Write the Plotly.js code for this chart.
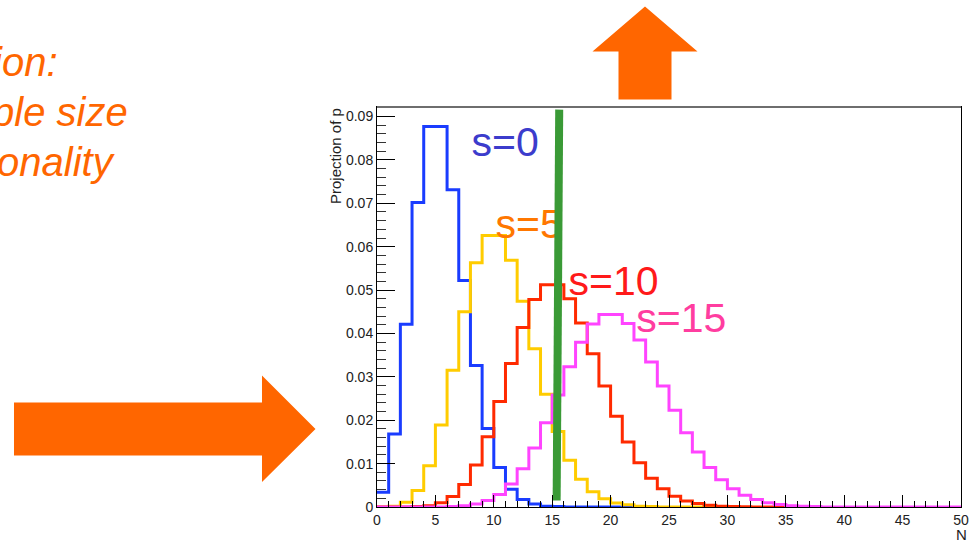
<!DOCTYPE html>
<html>
<head>
<meta charset="utf-8">
<script src="https://cdn.plot.ly/plotly-3.0.1.min.js"></script>
<style>html,body{margin:0;padding:0;background:#fff;}#chart{width:979px;height:545px;}</style>
</head>
<body>
<div id="chart"></div>
<script>
// Bin edges 0..50 (width 1)
const binEdges = Array.from({length: 51}, (_, i) => i);

// Bin contents
const s0Values = [0.0034, 0.0168, 0.0421, 0.0702, 0.0877, 0.0877, 0.0731, 0.0522, 0.0326, 0.0181, 0.0091, 0.0041, 0.0017, 0.0007, 0.0002, 0.0001, 0, 0, 0, 0, 0, 0, 0];
const s5Values = [0.00002, 0.0002, 0.0011, 0.0038, 0.0095, 0.0189, 0.0315, 0.0450, 0.0563, 0.0626, 0.0626, 0.0569, 0.0474, 0.0365, 0.0260, 0.0174, 0.0108, 0.0064, 0.0035, 0.0019, 0.0009, 0.0005, 0.0002, 0.0001, 0, 0, 0, 0, 0];
const s10Values = [0, 0, 0.00002, 0.0001, 0.0003, 0.0010, 0.0024, 0.0052, 0.0097, 0.0162, 0.0243, 0.0331, 0.0414, 0.0478, 0.0512, 0.0512, 0.0480, 0.0424, 0.0353, 0.0279, 0.0209, 0.0150, 0.0102, 0.0066, 0.0042, 0.0025, 0.0014, 0.0008, 0.0004, 0.0002, 0.0001, 0.00005, 0, 0, 0, 0];
const s15Values = [0, 0, 0, 0, 0, 0, 0.0001, 0.0003, 0.0007, 0.0015, 0.0029, 0.0053, 0.0088, 0.0136, 0.0194, 0.0258, 0.0323, 0.0380, 0.0422, 0.0444, 0.0444, 0.0423, 0.0385, 0.0334, 0.0279, 0.0223, 0.0171, 0.0127, 0.0091, 0.0063, 0.0042, 0.0027, 0.0017, 0.0010, 0.0006, 0.0003, 0.0002, 0.0001, 0, 0, 0, 0, 0, 0, 0, 0, 0, 0, 0, 0];

const seriesNames = ['s=0', 's=5', 's=10', 's=15'];
const histColors = ['#1a3cff', '#ffcc00', '#ff2a00', '#ff44ff'];
const labelColors = ['#3c3ccc', '#ff7700', '#ff1a1a', '#ff3da0'];
// label anchor points in data coordinates (left edge, vertical middle)
const labelX = [8.1, 10.15, 16.4, 22.2];
const labelY = [0.0832, 0.0643, 0.0512, 0.0427];

// cut line (green)
const cutX = [15.6, 15.38];
const cutY = [0.0916, 0.0015];

const yTickVals = [0, 0.01, 0.02, 0.03, 0.04, 0.05, 0.06, 0.07, 0.08, 0.09];
const yTickText = ['0', '0.01', '0.02', '0.03', '0.04', '0.05', '0.06', '0.07', '0.08', '0.09'];

const sideText = ['ion:', 'ple size', 'onality'];

// figure geometry (pixels)
const W = 979, H = 545;
const ml = 377, mr = 18, mt = 107, mb = 38;
const pw = W - ml - mr, ph = H - mt - mb;
const px = x => (x - ml) / pw;
const py = y => (H - mb - y) / ph;

function stepTrace(vals, color) {
  const x = binEdges.slice(0, vals.length + 1);
  const y = vals.concat([vals[vals.length - 1]]);
  return {x: x, y: y, type: 'scatter', mode: 'lines', line: {shape: 'hv', color: color, width: 3}, hoverinfo: 'skip', showlegend: false};
}

const allVals = [s0Values, s5Values, s10Values, s15Values];
const traces = allVals.map((v, i) => stepTrace(v, histColors[i]));

traces.push({
  x: labelX, y: labelY, type: 'scatter', mode: 'text', text: seriesNames,
  textposition: 'middle right',
  textfont: {family: 'Liberation Sans, Arial, sans-serif', size: 41, color: labelColors},
  hoverinfo: 'skip', showlegend: false, cliponaxis: false
});

traces.push({
  x: cutX, y: cutY, type: 'scatter', mode: 'lines',
  line: {color: '#3a9a36', width: 8}, hoverinfo: 'skip', showlegend: false
});

function pathFromPixels(pts) {
  return 'M ' + pts.map(p => px(p[0]).toFixed(5) + ',' + py(p[1]).toFixed(5)).join(' L ') + ' Z';
}

const upArrow = [[618.5, 99.5], [618.5, 51.5], [592.5, 51.5], [645, 6.5], [697.5, 51.5], [671.5, 51.5], [671.5, 99.5]];
const rightArrow = [[14, 402.5], [262, 402.5], [262, 375.5], [315.5, 429], [262, 482], [262, 455.5], [14, 455.5]];

const sideFont = {size: 40, color: '#ff6600', family: 'Liberation Sans, Arial, sans-serif', style: 'italic'};

const layout = {
  width: W, height: H,
  margin: {l: ml, r: mr, t: mt, b: mb, pad: 0},
  paper_bgcolor: '#ffffff', plot_bgcolor: '#ffffff',
  showlegend: false,
  font: {family: 'Liberation Sans, Arial, sans-serif', color: '#000'},
  xaxis: {
    range: [0, 50], showgrid: false, zeroline: false,
    tickmode: 'linear', tick0: 0, dtick: 5,
    ticks: 'inside', ticklen: 12, tickwidth: 1, tickcolor: '#000',
    minor: {ticks: 'inside', dtick: 1, ticklen: 6, tickcolor: '#000', showgrid: false},
    showline: true, linecolor: '#000', linewidth: 1, mirror: true,
    tickfont: {size: 14, color: '#222'}
  },
  yaxis: {
    range: [0, 0.0922], showgrid: false, zeroline: false,
    tickmode: 'array', tickvals: yTickVals, ticktext: yTickText,
    ticks: 'inside', ticklen: 18, tickwidth: 1, tickcolor: '#000',
    minor: {ticks: 'inside', dtick: 0.002, tick0: 0, ticklen: 9, tickcolor: '#333', showgrid: false},
    showline: true, linecolor: '#000', linewidth: 1, mirror: true,
    tickfont: {size: 14, color: '#222'}
  },
  shapes: [
    {type: 'line', xref: 'paper', yref: 'paper', x0: 0, x1: 1, y0: 1, y1: 1, line: {color: '#6e6e6e', width: 2}},
    {type: 'path', xref: 'paper', yref: 'paper', path: pathFromPixels(upArrow), fillcolor: '#ff6600', line: {width: 0}},
    {type: 'path', xref: 'paper', yref: 'paper', path: pathFromPixels(rightArrow), fillcolor: '#ff6600', line: {width: 0}}
  ],
  annotations: [
    {xref: 'paper', yref: 'paper', x: px(961), y: py(534), text: 'N', showarrow: false, xanchor: 'center', yanchor: 'middle', font: {size: 15, color: '#222'}},
    {xref: 'paper', yref: 'paper', x: px(335), y: py(106), text: 'Projection of p', textangle: -90, showarrow: false, xanchor: 'center', yanchor: 'top', font: {size: 15, color: '#222'}},
    {xref: 'paper', yref: 'paper', x: px(60), y: py(62), text: sideText[0], showarrow: false, xanchor: 'right', yanchor: 'middle', font: sideFont},
    {xref: 'paper', yref: 'paper', x: px(130), y: py(112), text: sideText[1], showarrow: false, xanchor: 'right', yanchor: 'middle', font: sideFont},
    {xref: 'paper', yref: 'paper', x: px(118), y: py(162), text: sideText[2], showarrow: false, xanchor: 'right', yanchor: 'middle', font: sideFont}
  ]
};

Plotly.newPlot('chart', traces, layout, {staticPlot: true, displayModeBar: false});
</script>
</body>
</html>
